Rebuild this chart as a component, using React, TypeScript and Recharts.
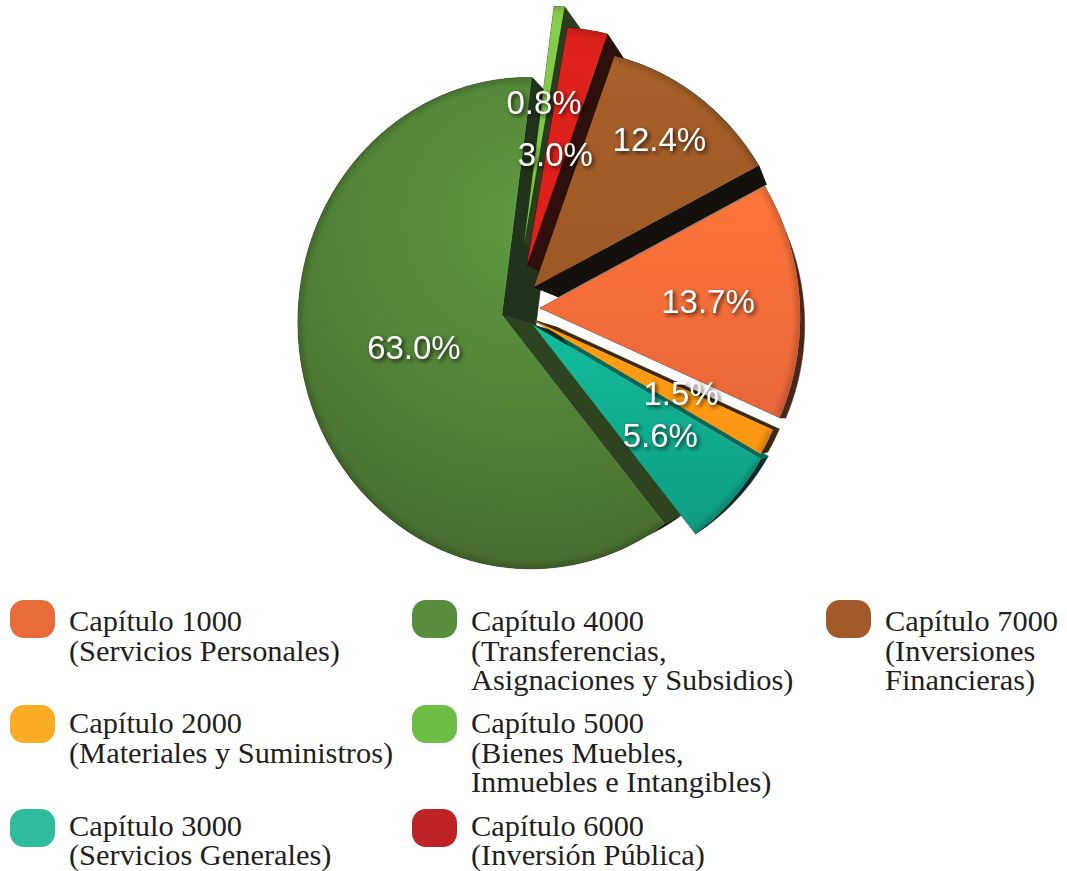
import React from 'react';
import { PieChart, Pie, Legend } from 'recharts';

const CATEGORIES = ['Capítulo 1000', 'Capítulo 2000', 'Capítulo 3000', 'Capítulo 4000', 'Capítulo 5000', 'Capítulo 6000', 'Capítulo 7000'];
const DESCRIPTIONS = [
  ['(Servicios Personales)'],
  ['(Materiales y Suministros)'],
  ['(Servicios Generales)'],
  ['(Transferencias,', 'Asignaciones y Subsidios)'],
  ['(Bienes Muebles,', 'Inmuebles e Intangibles)'],
  ['(Inversión Pública)'],
  ['(Inversiones', 'Financieras)'],
];
const VALUES = [13.7, 1.5, 5.6, 63.0, 0.8, 3.0, 12.4];
const LEGEND_COLORS = ['#E86C3A', '#F9AC24', '#2FBC9C', '#5A8E3F', '#6DBE45', '#BE2326', '#A15A28'];

// how the slices are drawn: screen offset of each exploded slice, face gradient, walls, label distance and nudge
const SLICES = [
  { dx: 38, dy: -7, depth: 0.075, top: '#ff753a', bottom: '#e8663a', startWall: '#48281a', arcWall: '#48281a', endWall: '#48281a', labelAt: 0.64, labelDx: 0, labelDy: 0 },
  { dx: 31, dy: 5, depth: 0.075, top: '#ff9c14', bottom: '#fb9612', startWall: '#3a2a08', arcWall: '#3a2708', endWall: '#3a2708', labelAt: 0.62, labelDx: 1, labelDy: -2 },
  { dx: 31, dy: 10, depth: 0.075, top: '#13bd9b', bottom: '#0e9c82', startWall: '#07695c', arcWall: '#062a25', endWall: '#062a25', labelAt: 0.63, labelDx: 0, labelDy: 0 },
  { dx: 0, dy: 0, depth: 0.095, top: '#5e9a40', bottom: '#466a2e', startWall: '#2e431f', arcWall: '#141a0e', endWall: '#21331a', labelAt: 0.46, labelDx: 3, labelDy: 15 },
  { dx: 22, dy: -71, depth: 0.075, top: '#86ce4a', bottom: '#7cc244', startWall: '#2a3d1c', arcWall: '#2a3d1c', endWall: '#2a3d1c', labelAt: 0.57, labelDx: -2, labelDy: -6 },
  { dx: 25, dy: -50, depth: 0.075, top: '#dd221c', bottom: '#e01f1c', startWall: '#2e0f0b', arcWall: '#2e0f0b', endWall: '#2e0f0b', labelAt: 0.45, labelDx: -1, labelDy: -5 },
  { dx: 32, dy: -28, depth: 0.075, top: '#a96029', bottom: '#9c5826', startWall: '#14100c', arcWall: '#14100c', endWall: '#14100c', labelAt: 0.77, labelDx: 0, labelDy: 1 },
];
const BIG_SLICE = 3;

const WIDTH = 1067;
const HEIGHT = 871;
const CX = 502;
const CY = 315;
const RADIUS = 240;

// perspective of the tilted pie, the walls run towards a vanishing point
const TILT_X = 0.1207;
const TILT_Y = 0.0328;
const SCALE_X = 0.9525;
const SCALE_Y = 1.015;
const VANISH_X = 860;
const VANISH_Y = 420;
// the perspective also bends the slice angles a little
const WARP = 4.5;
const WARP_CENTER = 15;

const rows = CATEGORIES.map((name, i) => ({ name, value: VALUES[i], fill: LEGEND_COLORS[i] }));

type Pt = [number, number];

function project(cx: number, cy: number, r: number, angle: number, frac: number, i: number): Pt {
  const bent = angle - WARP * (1 - Math.cos(((angle - WARP_CENTER) * Math.PI) / 180));
  const a = (bent * Math.PI) / 180;
  const u = Math.cos(a);
  const v = -Math.sin(a);
  const w = 1 - TILT_X * u - TILT_Y * v;
  return [cx + SLICES[i].dx + (frac * r * SCALE_X * u) / w, cy + SLICES[i].dy + (frac * r * SCALE_Y * v) / w];
}

function arcPoints(p: any, i: number): Pt[] {
  const n = Math.max(4, Math.ceil(Math.abs(p.endAngle - p.startAngle)));
  const pts: Pt[] = [];
  for (let k = 0; k <= n; k++) {
    pts.push(project(p.cx, p.cy, p.outerRadius, p.startAngle + ((p.endAngle - p.startAngle) * k) / n, 1, i));
  }
  return pts;
}

const back = ([x, y]: Pt, depth: number): Pt => [x + depth * (VANISH_X - x), y + depth * (VANISH_Y - y)];
const toPath = (pts: Pt[], close = true) =>
  pts.map(([x, y], k) => `${k ? 'L' : 'M'}${x.toFixed(2)} ${y.toFixed(2)}`).join(' ') + (close ? ' Z' : '');

function WallShape(props: any) {
  const i = props.index;
  const s = SLICES[i];
  const arc = arcPoints(props, i);
  const apex: Pt = [props.cx + s.dx, props.cy + s.dy];
  const first = arc[0];
  const last = arc[arc.length - 1];
  const arcBack = arc.map((p) => back(p, s.depth)).reverse();
  return (
    <g>
      <path d={toPath([...arc, ...arcBack])} fill={s.arcWall} stroke={s.arcWall} strokeWidth={0.5} />
      <path d={toPath([apex, first, back(first, s.depth), back(apex, s.depth)])} fill={s.startWall} stroke={s.startWall} strokeWidth={0.5} />
      <path d={toPath([apex, last, back(last, s.depth), back(apex, s.depth)])} fill={s.endWall} stroke={s.endWall} strokeWidth={0.5} />
    </g>
  );
}

function FaceShape(props: any) {
  const i = props.index;
  const s = SLICES[i];
  const arc = arcPoints(props, i);
  const apex: Pt = [props.cx + s.dx, props.cy + s.dy];
  const ys = arc.map((p) => p[1]).concat(apex[1]);
  const face = toPath([apex, ...arc]);
  return (
    <g>
      <defs>
        {i === BIG_SLICE ? (
          <radialGradient id={`face-${i}`} gradientUnits="userSpaceOnUse" cx={530} cy={220} r={370}>
            <stop offset="0%" stopColor={s.top} />
            <stop offset="70%" stopColor="#4e7a34" />
            <stop offset="100%" stopColor={s.bottom} />
          </radialGradient>
        ) : (
          <linearGradient id={`face-${i}`} gradientUnits="userSpaceOnUse" x1={0} x2={0} y1={Math.min(...ys)} y2={Math.max(...ys)}>
            <stop offset="0%" stopColor={s.top} />
            <stop offset="100%" stopColor={s.bottom} />
          </linearGradient>
        )}
        <clipPath id={`clip-${i}`}>
          <path d={face} />
        </clipPath>
        <filter id={`rim-${i}`} filterUnits="userSpaceOnUse" x={0} y={0} width={WIDTH} height={HEIGHT}>
          <feGaussianBlur stdDeviation={3} />
        </filter>
      </defs>
      <path d={face} fill={`url(#face-${i})`} />
      <g clipPath={`url(#clip-${i})`}>
        <path d={toPath(arc, false)} fill="none" stroke="#000" strokeOpacity={0.25} strokeWidth={6} filter={`url(#rim-${i})`} />
      </g>
    </g>
  );
}

function PercentLabel(props: any) {
  const i = props.index;
  const s = SLICES[i];
  const [x, y] = project(props.cx, props.cy, props.outerRadius, props.midAngle, s.labelAt, i);
  return (
    <text
      x={x + 2 + s.labelDx}
      y={y + s.labelDy}
      textAnchor="middle"
      dominantBaseline="central"
      fill="#fff"
      fontFamily="'Liberation Sans', Arial, sans-serif"
      fontSize={33}
      style={{ filter: 'drop-shadow(2px 2px 2px rgba(0,0,0,0.75))' }}
    >
      {VALUES[i].toFixed(1)}%
    </text>
  );
}

const COLUMN_X = [10, 412, 826];
const ROW_Y = [600, 705, 809];
const ROW_TEXT_TOP = [7, 4, 2.6];

function ChapterLegend() {
  return (
    <div style={{ position: 'relative', width: WIDTH, height: HEIGHT }}>
      {rows.map((row, i) => (
        <div key={row.name} style={{ position: 'absolute', left: COLUMN_X[Math.floor(i / 3)], top: ROW_Y[i % 3] }}>
          <div style={{ position: 'absolute', left: 0, top: 0, width: 45, height: 38, borderRadius: 14, background: row.fill }} />
          <div
            style={{
              position: 'absolute',
              left: 59,
              top: ROW_TEXT_TOP[i % 3],
              whiteSpace: 'nowrap',
              color: '#231f20',
              fontFamily: "'Liberation Serif', serif",
              fontSize: 30.4,
              lineHeight: '29.6px',
            }}
          >
            <div>{row.name}</div>
            {DESCRIPTIONS[i].map((line) => (
              <div key={line}>{line}</div>
            ))}
          </div>
        </div>
      ))}
    </div>
  );
}

export default function App() {
  return (
    <div style={{ position: 'absolute', left: 0, top: 0, width: WIDTH, height: HEIGHT, overflow: 'hidden', background: '#fff' }}>
      <PieChart width={WIDTH} height={HEIGHT} margin={{ top: 0, right: 0, bottom: 0, left: 0 }}>
        <Pie
          data={rows}
          dataKey="value"
          nameKey="name"
          cx={CX}
          cy={CY}
          outerRadius={RADIUS}
          startAngle={27}
          endAngle={-333}
          stroke="none"
          legendType="none"
          shape={WallShape}
          isAnimationActive={false}
        />
        <Pie
          data={rows}
          dataKey="value"
          nameKey="name"
          cx={CX}
          cy={CY}
          outerRadius={RADIUS}
          startAngle={27}
          endAngle={-333}
          stroke="none"
          shape={FaceShape}
          label={PercentLabel}
          labelLine={false}
          isAnimationActive={false}
        />
        <Legend content={ChapterLegend} wrapperStyle={{ left: 0, top: 0, width: WIDTH, height: HEIGHT }} />
      </PieChart>
    </div>
  );
}
